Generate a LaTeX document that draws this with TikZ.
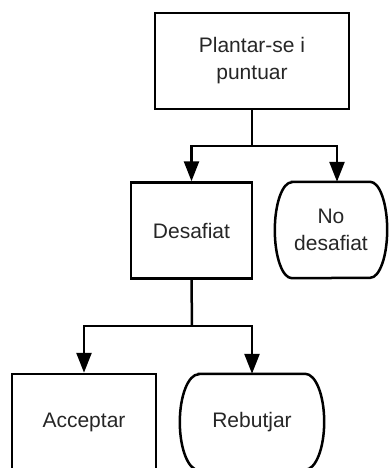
\documentclass[tikz,border=0pt]{standalone}
\usepackage{fontspec}
\setmainfont{Liberation Sans}
\usetikzlibrary{arrows.meta}

\begin{document}
\begin{tikzpicture}[x=1pt,y=1pt,
    txt/.style={align=center, font=\fontsize{21}{27}\selectfont, text=black!85, inner sep=0pt},
    box/.style={txt, draw, line width=2.5pt, minimum height=96pt},
    line/.style={line width=2.5pt},
    arr/.style={line width=2.5pt, -{Triangle[width=15pt,length=20pt]}}]

    % marges
    \useasboundingbox (0,0) rectangle (390,-468);
    \clip (0,0) rectangle (390,-468);

    % caixes
    \node[box, minimum width=194pt] (plantar) at (252,-61) {Plantar-se i\\puntuar};
    \node[box, minimum width=121pt] (desafiat) at (191.5,-230.5) {Desafiat};
    \node[txt, minimum width=112pt, minimum height=96pt] (nodesafiat) at (331,-230) {No\\desafiat};
    \node[box, minimum width=144pt] (acceptar) at (84,-422) {Acceptar};
    \node[txt, minimum width=144pt, minimum height=96pt] (rebutjar) at (252,-422) {Rebutjar};

    % vores arrodonides
    \draw[line] ([xshift=17pt]nodesafiat.north west) -- ([xshift=-17pt]nodesafiat.north east)
        arc[start angle=90, end angle=-90, x radius=17pt, y radius=48pt]
        -- ([xshift=17pt]nodesafiat.south west)
        arc[start angle=270, end angle=90, x radius=17pt, y radius=48pt] -- cycle;
    \draw[line] ([xshift=19pt]rebutjar.north west) -- ([xshift=-19pt]rebutjar.north east)
        arc[start angle=90, end angle=-90, x radius=19pt, y radius=48pt]
        -- ([xshift=19pt]rebutjar.south west)
        arc[start angle=270, end angle=90, x radius=19pt, y radius=48pt] -- cycle;

    % primer nivell
    \coordinate (bif1) at (252,-146);
    \coordinate (dreta1) at (337,-146);
    \draw[line] (plantar.south) -- (bif1);
    \draw[arr] (bif1) -| (desafiat.north);
    \draw[arr] (bif1) -- (dreta1) -- (dreta1 |- nodesafiat.north);

    % segon nivell
    \coordinate (bif2) at (192,-326);
    \draw[line] (desafiat.south) -- (bif2);
    \draw[arr] (bif2) -| (acceptar.north);
    \draw[arr] (bif2) -| (rebutjar.north);
\end{tikzpicture}
\end{document}
